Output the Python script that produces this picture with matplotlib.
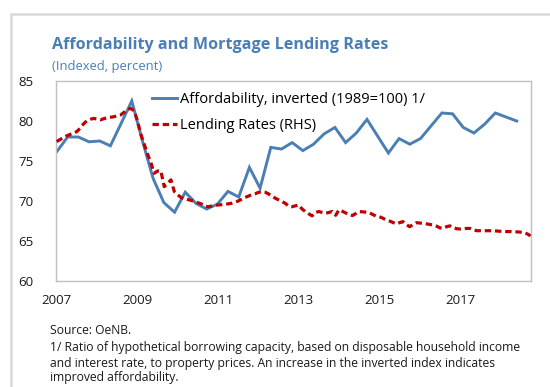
import matplotlib
matplotlib.use('Agg')
import matplotlib.pyplot as plt
from matplotlib.patches import Rectangle
import numpy as np

plt.rcParams['font.family'] = ['Open Sans', 'DejaVu Sans']

# Affordability index, inverted (1989=100), quarterly 2007Q1-2017Q4
afford = [76.2, 78.0, 78.0, 77.4, 77.5, 76.9, 79.7, 82.5,
          77.5, 72.8, 69.8, 68.6, 71.1, 69.7, 69.0, 69.6,
          71.2, 70.5, 74.2, 71.6, 76.7, 76.5, 77.3, 76.3,
          77.1, 78.4, 79.2, 77.3, 78.5, 80.2, 78.1, 76.0,
          77.8, 77.1, 77.8, 79.4, 81.0, 80.9, 79.2, 78.5,
          79.6, 81.0, 80.5, 80.0]

# Mortgage lending rates (RHS), monthly 2007-01 .. 2018-10
rates_2007 = [4.88, 4.95, 5.02, 5.08, 5.13, 5.18, 5.23, 5.35, 5.50, 5.61, 5.66, 5.69]
rates_2008 = [5.67, 5.64, 5.68, 5.71, 5.73, 5.75, 5.78, 5.81, 5.90, 6.00, 6.04, 5.96]
rates_2009 = [5.62, 5.15, 4.80, 4.45, 4.15, 3.77, 3.85, 3.85, 3.30, 3.42, 3.54, 3.13]
rates_2010 = [3.02, 2.92, 2.88, 2.85, 2.82, 2.78, 2.74, 2.70, 2.62, 2.60, 2.62, 2.65]
rates_2011 = [2.66, 2.67, 2.68, 2.70, 2.72, 2.75, 2.80, 2.86, 2.92, 2.97, 3.02, 3.05]
rates_2012 = [3.10, 3.13, 3.11, 3.05, 2.98, 2.90, 2.84, 2.78, 2.72, 2.62, 2.60, 2.63]
rates_2013 = [2.66, 2.52, 2.43, 2.35, 2.28, 2.40, 2.43, 2.40, 2.37, 2.40, 2.43, 2.30]
rates_2014 = [2.49, 2.44, 2.38, 2.33, 2.29, 2.36, 2.43, 2.42, 2.41, 2.39, 2.33, 2.27]
rates_2015 = [2.25, 2.20, 2.14, 2.10, 2.05, 2.00, 2.04, 2.08, 1.98, 1.90, 1.97, 2.04]
rates_2016 = [2.03, 2.02, 2.00, 1.98, 1.96, 1.92, 1.86, 1.84, 1.90, 1.93, 1.87, 1.83]
rates_2017 = [1.82, 1.83, 1.84, 1.84, 1.79, 1.76, 1.76, 1.76, 1.76, 1.76, 1.75, 1.75]
rates_2018 = [1.74, 1.74, 1.73, 1.73, 1.72, 1.72, 1.71, 1.69, 1.65, 1.58]
rates = (rates_2007 + rates_2008 + rates_2009 + rates_2010 + rates_2011 + rates_2012
         + rates_2013 + rates_2014 + rates_2015 + rates_2016 + rates_2017 + rates_2018)

year_ticks = [2007, 2009, 2011, 2013, 2015, 2017]

C_BLUE = '#4a7fb5'; C_RED = '#c00000'; C_TXT = '#1a1a1a'; C_GRID = '#bfbfbf'

W, H = 550, 387
fig = plt.figure(figsize=(W / 100, H / 100), dpi=100)
fig.patch.set_facecolor('white')

# outer chart frame
fig.patches.append(Rectangle((11 / W, -0.1), 1.2, (H - 14) / H + 0.1, transform=fig.transFigure,
                             fill=False, edgecolor='#d9d9d9', linewidth=1.8))

rect = [56 / W, (H - 281) / H, 475 / W, 200 / H]
ax = fig.add_axes(rect)
ax_r = fig.add_axes(rect, facecolor='none')

# blue series on its own category axis
xq = np.arange(len(afford))
l1, = ax.plot(xq, afford, color=C_BLUE, lw=2.1, solid_joinstyle='miter')
ax.set_xlim(-0.09, 44.34)
ax.set_ylim(60, 85)
ax.set_yticks(np.arange(60, 86, 5))
ax.set_xticks([])
ax.tick_params(axis='y', length=0, pad=16, labelsize=9.5, labelcolor=C_TXT)
for s in ax.spines.values():
    s.set_color(C_GRID); s.set_linewidth(1.0)

# red series: monthly, on year axis
xm = 2007 + np.arange(len(rates)) / 12
l2, = ax_r.plot(xm, rates, color=C_RED, lw=2.3, ls=(0, (2.0, 1.2)))
ax_r.set_xlim(2006.983, 2018.76)
ax_r.set_ylim(0, 7)
ax_r.set_yticks(np.arange(0, 8, 1))
ax_r.set_xticks(year_ticks)
ax_r.yaxis.tick_right()
ax_r.tick_params(axis='y', length=0, pad=15, labelsize=9.5, labelcolor=C_TXT)
ax_r.tick_params(axis='x', length=0, pad=9, labelsize=9.5, labelcolor=C_TXT)
for s in ax_r.spines.values():
    s.set_visible(False)

ax_r.legend([l1, l2], ['Affordability, inverted (1989=100) 1/', 'Lending Rates (RHS)'],
            loc='upper left', bbox_to_anchor=(0.189, 0.975), frameon=False,
            fontsize=10.5, handlelength=1.75, handletextpad=0.2, labelspacing=0.75,
            borderaxespad=0)

fig.text(52 / W, 1 - 45 / H, 'Affordability and Mortgage Lending Rates', fontsize=11.6,
         fontweight='bold', color=C_BLUE, va='center', ha='left')
fig.text(52 / W, 1 - 66.5 / H, '(Indexed, percent)', fontsize=9.4, color=C_BLUE,
         va='center', ha='left')

notes = ['Source: OeNB.',
         '1/ Ratio of hypothetical borrowing capacity, based on disposable household income',
         'and interest rate, to property prices. An increase in the inverted index indicates',
         'improved affordability.']
for txt, yp in zip(notes, [331, 348, 363, 378]):
    fig.text(50 / W, 1 - yp / H, txt, fontsize=8.7, color=C_TXT, va='center', ha='left')

fig.savefig('out.png', dpi=100, facecolor='white')
